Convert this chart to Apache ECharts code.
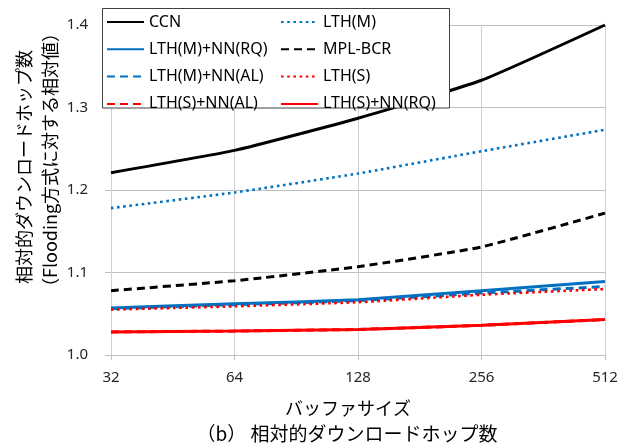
<!DOCTYPE html>
<html>
<head>
<meta charset="utf-8">
<script src="https://cdn.jsdelivr.net/npm/echarts@6/dist/echarts.min.js"></script>
<style>
  html, body { margin: 0; padding: 0; background: #fff; }
  #chart { width: 634px; height: 448px; }
</style>
</head>
<body>
<div id="chart"></div>
<script>
// Buffer sizes (x axis categories)
const bufferSizes = ['32', '64', '128', '256', '512'];

// Relative download hop counts (ratio to Flooding)
const ccn        = [1.221, 1.248, 1.287, 1.333, 1.400];
const lthM       = [1.178, 1.197, 1.220, 1.247, 1.273];
const lthMnnRQ   = [1.057, 1.062, 1.067, 1.078, 1.089];
const mplBcr     = [1.078, 1.090, 1.107, 1.131, 1.172];
const lthMnnAL   = [1.056, 1.061, 1.066, 1.075, 1.083];
const lthS       = [1.055, 1.059, 1.064, 1.073, 1.080];
const lthSnnAL   = [1.028, 1.029, 1.031, 1.036, 1.043];
const lthSnnRQ   = [1.028, 1.029, 1.031, 1.036, 1.043];

const yTicks = { min: 1.0, max: 1.4, interval: 0.1 };

const BLACK = '#000000';
const BLUE = '#0070C0';
const RED = '#FF0000';
const latin = '"Noto Sans", "Noto Sans CJK JP", sans-serif';
const jp = '"Noto Sans CJK JP", "Noto Sans", sans-serif';

const DOT = [2.6, 3.6];
const DASH = [8, 5];

function line(name, data, color, type, width) {
  return {
    name, type: 'line', data,
    smooth: 0.15,
    symbol: 'none',
    lineStyle: { color, width, type },
    itemStyle: { color },
    emphasis: { disabled: true }
  };
}

const chart = echarts.init(document.getElementById('chart'), null, { renderer: 'canvas' });

const legendText = { fontFamily: latin, fontSize: 16, color: '#000', lineHeight: 14 };
const legendCommon = {
  orient: 'vertical', top: 14, padding: 0,
  itemWidth: 37, itemHeight: 14, itemGap: 11.3,
  textStyle: legendText,
  itemStyle: { color: 'rgba(0,0,0,0)', borderWidth: 0, opacity: 0 },
  z: 5
};

chart.setOption({
  animation: false,
  backgroundColor: '#fff',
  grid: { left: 111, right: 29, top: 25, bottom: 93 },
  xAxis: {
    type: 'category',
    data: bufferSizes,
    boundaryGap: false,
    axisLine: { lineStyle: { color: '#BFBFBF', width: 1 } },
    axisTick: { show: true, length: 5, alignWithLabel: true, lineStyle: { color: '#BFBFBF' } },
    axisLabel: { fontFamily: latin, fontSize: 15, color: '#262626', margin: 15 },
    splitLine: { show: true, lineStyle: { color: '#D0D0D0', width: 1 } }
  },
  yAxis: {
    type: 'value',
    min: yTicks.min, max: yTicks.max, interval: yTicks.interval,
    axisLine: { show: false },
    axisTick: { show: true, length: 6, lineStyle: { color: '#BFBFBF' } },
    axisLabel: { fontFamily: latin, fontSize: 15, color: '#262626', margin: 23,
      formatter: v => v.toFixed(1) },
    splitLine: { show: true, lineStyle: { color: '#BFBFBF', width: 1 } }
  },
  legend: [
    Object.assign({}, legendCommon, {
      left: 106,
      data: ['CCN', 'LTH(M)+NN(RQ)', 'LTH(M)+NN(AL)', 'LTH(S)+NN(AL)']
    }),
    Object.assign({}, legendCommon, {
      left: 280,
      data: ['LTH(M)', 'MPL-BCR', 'LTH(S)', 'LTH(S)+NN(RQ)']
    })
  ],
  graphic: [
    { type: 'rect', z: 4, shape: { x: 102.5, y: 8.5, width: 347, height: 99.5 },
      style: { fill: '#fff', stroke: '#404040', lineWidth: 1 } },
    { type: 'text', x: 24, y: 167, rotation: Math.PI / 2,
      style: { text: '相対的ダウンロードホップ数', font: '18px ' + jp, fill: '#000',
        textAlign: 'center', textVerticalAlign: 'middle' } },
    { type: 'text', x: 50, y: 160, rotation: Math.PI / 2,
      style: { text: '（Flooding方式に対する相対値）', font: '18px ' + jp, fill: '#000',
        textAlign: 'center', textVerticalAlign: 'middle' } },
    { type: 'text', x: 348, y: 408,
      style: { text: 'バッファサイズ', font: '18px ' + jp, fill: '#000',
        textAlign: 'center', textVerticalAlign: 'middle' } },
    { type: 'text', x: 347, y: 434,
      style: { text: '（b） 相対的ダウンロードホップ数', font: '19px ' + jp, fill: '#000',
        textAlign: 'center', textVerticalAlign: 'middle' } }
  ],
  series: [
    line('CCN', ccn, BLACK, 'solid', 3),
    line('LTH(M)', lthM, BLUE, DOT, 2.6),
    line('LTH(M)+NN(RQ)', lthMnnRQ, BLUE, 'solid', 3),
    line('MPL-BCR', mplBcr, BLACK, DASH, 3),
    line('LTH(M)+NN(AL)', lthMnnAL, BLUE, DASH, 3),
    line('LTH(S)', lthS, RED, DOT, 2.6),
    line('LTH(S)+NN(AL)', lthSnnAL, RED, DASH, 3),
    line('LTH(S)+NN(RQ)', lthSnnRQ, RED, 'solid', 3)
  ]
});
</script>
</body>
</html>
